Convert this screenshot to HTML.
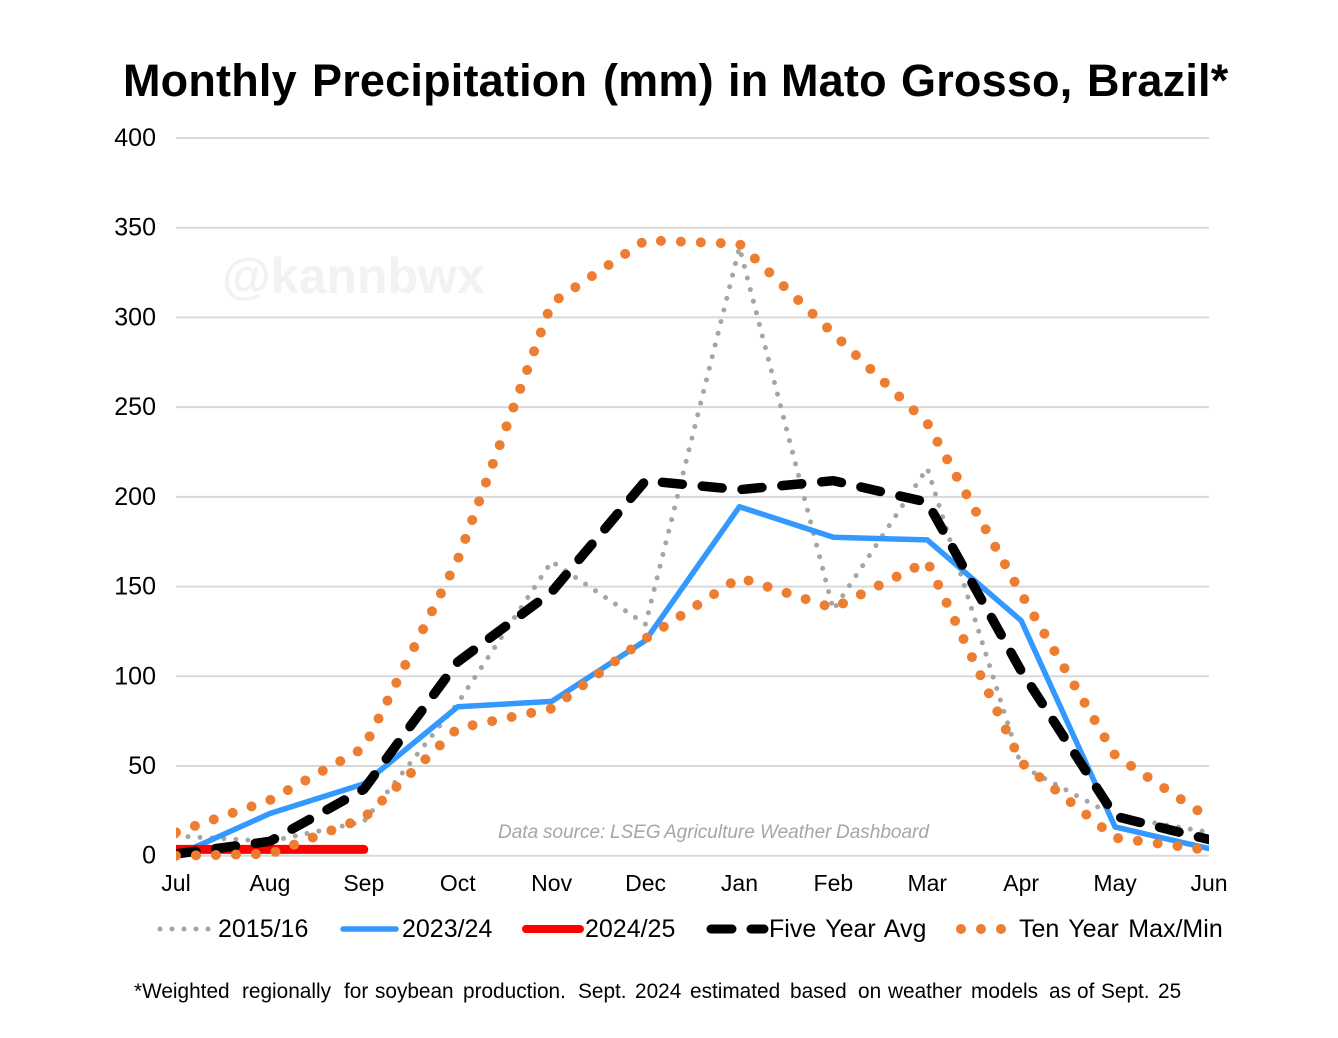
<!DOCTYPE html>
<html lang="en">
<head>
<meta charset="utf-8">
<title>Monthly Precipitation (mm) in Mato Grosso, Brazil</title>
<style>
html,body{margin:0;padding:0;background:#fff;width:1338px;height:1038px;overflow:hidden}
svg{display:block}
text{font-family:"Liberation Sans",Arial,sans-serif;fill:#000}
</style>
</head>
<body>
<svg id="chart" width="1338" height="1038" viewBox="0 0 1338 1038" xmlns="http://www.w3.org/2000/svg">
  <defs><clipPath id="plot-clip"><rect x="176" y="100" width="1033" height="780"/></clipPath></defs>
  <rect width="1338" height="1038" fill="#fff"/>
  <text y="96" font-size="45" font-weight="700" letter-spacing="0.2"><tspan x="123">Monthly</tspan><tspan x="312">Precipitation</tspan><tspan x="603">(mm)</tspan><tspan x="728">in</tspan><tspan x="781">Mato</tspan><tspan x="901">Grosso,</tspan><tspan x="1087">Brazil*</tspan></text>
  <text x="222" y="293" font-size="50" font-weight="700" style="fill:#f2f2f2">@kannbwx</text>
  <g id="grid"></g>
  <g id="y-axis"></g>
  <g id="x-axis"></g>
  <g id="series" clip-path="url(#plot-clip)"></g>
  <text y="838" font-size="19" font-style="italic" style="fill:#a6a6a6"><tspan x="498">Data</tspan><tspan x="543">source:</tspan><tspan x="610">LSEG</tspan><tspan x="664">Agriculture</tspan><tspan x="760">Weather</tspan><tspan x="836">Dashboard</tspan></text>
  <g font-size="25" word-spacing="2.5">
    <g>
      <line x1="160" y1="929" x2="209" y2="929" stroke="#a5a5a5" stroke-width="5" stroke-linecap="round" stroke-dasharray="0 12"/>
      <text x="218" y="937">2015/16</text>
    </g>
    <g>
      <line x1="343" y1="929" x2="396" y2="929" stroke="#3399ff" stroke-width="5.5" stroke-linecap="round"/>
      <text x="402" y="937">2023/24</text>
    </g>
    <g>
      <line x1="526" y1="929" x2="580" y2="929" stroke="#ff0000" stroke-width="8" stroke-linecap="round"/>
      <text x="585" y="937">2024/25</text>
    </g>
    <g>
      <line x1="711" y1="929" x2="732" y2="929" stroke="#000" stroke-width="9" stroke-linecap="round"/>
      <line x1="751" y1="929" x2="764" y2="929" stroke="#000" stroke-width="9" stroke-linecap="round"/>
      <text x="769" y="937">Five Year Avg</text>
    </g>
    <g>
      <line x1="961" y1="929" x2="1002" y2="929" stroke="#ed7d31" stroke-width="10" stroke-linecap="round" stroke-dasharray="0 20"/>
      <text x="1019" y="937">Ten Year Max/Min</text>
    </g>
  </g>
  <text y="998" font-size="20.8"><tspan x="134">*Weighted</tspan><tspan x="242">regionally</tspan><tspan x="344">for</tspan><tspan x="375">soybean</tspan><tspan x="463">production.</tspan><tspan x="578">Sept.</tspan><tspan x="635">2024</tspan><tspan x="690">estimated</tspan><tspan x="790">based</tspan><tspan x="858">on</tspan><tspan x="888">weather</tspan><tspan x="971">models</tspan><tspan x="1049">as</tspan><tspan x="1077">of</tspan><tspan x="1101">Sept.</tspan><tspan x="1158">25</tspan></text>
</svg>
<script>
const months = ["Jul","Aug","Sep","Oct","Nov","Dec","Jan","Feb","Mar","Apr","May","Jun"];
const yTicks = [0,50,100,150,200,250,300,350,400];
const season2015 = [11,8,19,85,164,129,339,137,216,50,22,13];
const season2023 = [0,23.5,40,83,86,120,194.5,177.5,176,131,16,4];
const season2024 = [3.5,3.5,3.5];
const fiveYearAvg = [1,8,37,108,147,209,204,209,197,103,22,9];
const tenYearMax = [13,31,60,165,308,343,341,291,241,146,56,21];
const tenYearMin = [0,1,21,71,82,121,155,138,164,52,10,3];

const NS = "http://www.w3.org/2000/svg";
const xAt = i => 176 + i * (1209 - 176) / (months.length - 1);
const yAt = v => 855.7 - v * (855.7 - 138) / 400;
const grid = document.getElementById("grid");
const yAxis = document.getElementById("y-axis");
const xAxis = document.getElementById("x-axis");
const seriesGroup = document.getElementById("series");

yTicks.forEach(t => {
  const line = document.createElementNS(NS, "line");
  
  
  line.setAttribute("x1", 176);
  line.setAttribute("x2", 1209);
  line.setAttribute("y1", yAt(t));
  line.setAttribute("y2", yAt(t));
  line.setAttribute("stroke", "#d9d9d9");
  line.setAttribute("stroke-width", 2);
  grid.appendChild(line);
  const label = document.createElementNS(NS, "text");
  
  
  label.setAttribute("x", 156);
  label.setAttribute("y", yAt(t) + 8);
  label.setAttribute("text-anchor", "end");
  label.setAttribute("font-size", 25);
  label.textContent = t;
  yAxis.appendChild(label);
});

months.forEach((m, i) => {
  const label = document.createElementNS(NS, "text");
  
  
  label.setAttribute("x", xAt(i));
  label.setAttribute("y", 891);
  label.setAttribute("text-anchor", "middle");
  label.setAttribute("font-size", 23);
  label.textContent = m;
  xAxis.appendChild(label);
});

function drawSeries(values, name, color, width, dash) {
  const path = document.createElementNS(NS, "path");
  
  
  path.setAttribute("d", values.map((v, i) => (i ? "L" : "M") + xAt(i).toFixed(2) + " " + yAt(v).toFixed(2)).join(" "));
  path.setAttribute("fill", "none");
  path.setAttribute("stroke", color);
  path.setAttribute("stroke-width", width);
  path.setAttribute("stroke-linecap", "round");
  path.setAttribute("stroke-linejoin", "round");
  if (dash) path.setAttribute("stroke-dasharray", dash);
  seriesGroup.appendChild(path);
}

drawSeries(season2015, "series-2015-16", "#a5a5a5", 5, "0 12");
drawSeries(season2023, "series-2023-24", "#3399ff", 5.5, "");
drawSeries(season2024, "series-2024-25", "#ff0000", 9, "");
drawSeries(fiveYearAvg, "series-five-year-avg", "#000000", 9.5, "20 20");
drawSeries(tenYearMax, "series-ten-year-max", "#ed7d31", 10, "0 19.97");
drawSeries(tenYearMin, "series-ten-year-min", "#ed7d31", 10, "0 19.97");
</script>
</body>
</html>
